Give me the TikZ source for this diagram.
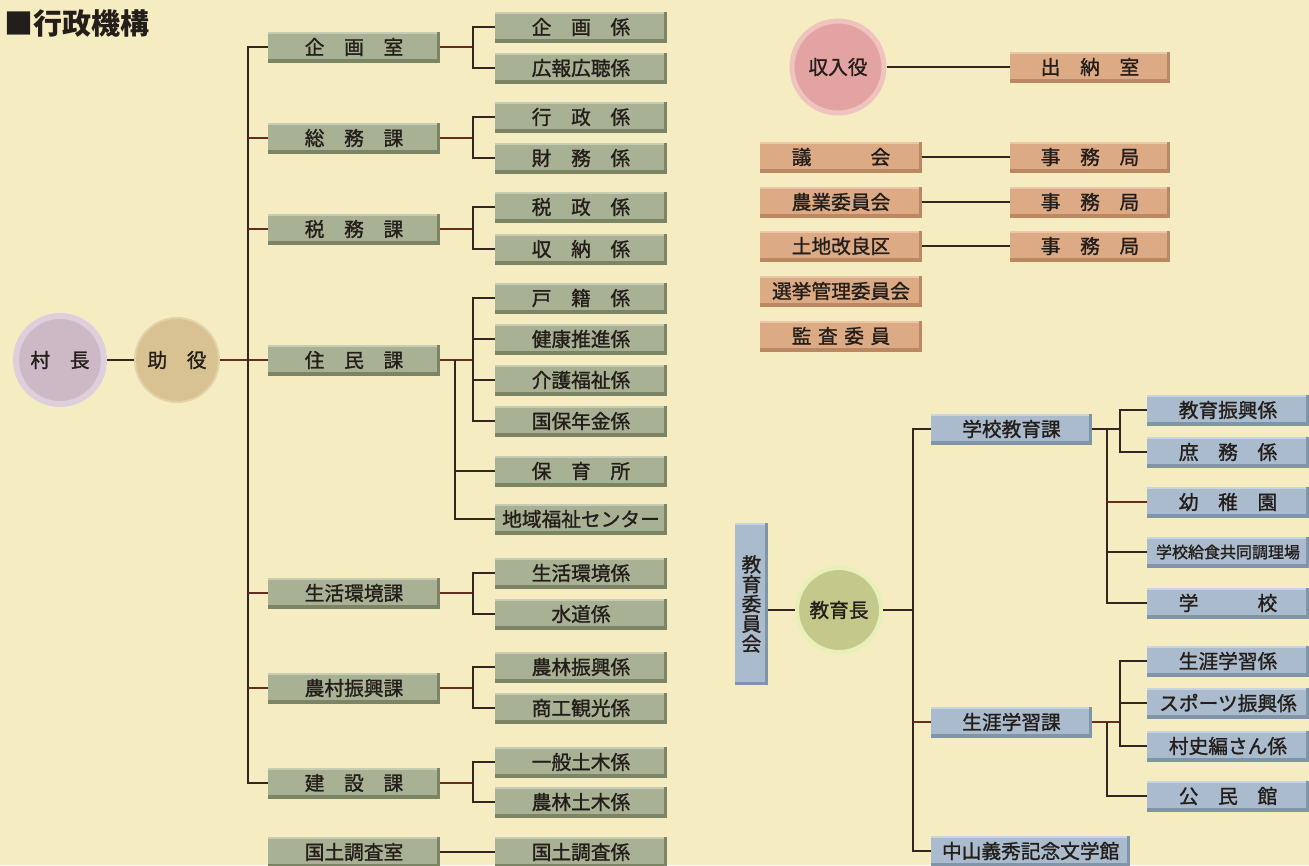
\documentclass[tikz,border=0pt]{standalone}
\usepackage{fontspec}
\newfontfamily\jp{Noto Sans CJK JP}[FakeBold=1.2]
\newfontfamily\jpt{Noto Sans CJK JP}
\definecolor{bg}{HTML}{F5ECC2}
\definecolor{txt}{HTML}{241E1A}
\definecolor{conn}{HTML}{33261F}
\definecolor{connr}{HTML}{642E1E}
\definecolor{gmain}{HTML}{A8B193}
\definecolor{gdark}{HTML}{7C8466}
\definecolor{glight}{HTML}{C6CDB4}
\definecolor{tmain}{HTML}{DCAB86}
\definecolor{tdark}{HTML}{BA8862}
\definecolor{tlight}{HTML}{EBC7A7}
\definecolor{bmain}{HTML}{A9BBCD}
\definecolor{bdark}{HTML}{8195A9}
\definecolor{blight}{HTML}{C8D5E1}
\definecolor{sonc}{HTML}{CDB8C6}
\definecolor{sonh}{HTML}{DDD0DC}
\definecolor{joc}{HTML}{D9C291}
\definecolor{joh}{HTML}{E2D2AA}
\definecolor{shc}{HTML}{E3A3A3}
\definecolor{shh}{HTML}{EFC3BE}
\definecolor{kyc}{HTML}{C4C98B}
\definecolor{kyh}{HTML}{E6F0B8}
\tikzset{
  box/.style={rectangle, inner sep=0pt, minimum height=31, text=txt,
    font=\jp\fontsize{19.7}{22}\selectfont},
  bev/.style n args={3}{fill=#1, path picture={
    \fill[#2] (path picture bounding box.south west) rectangle ([yshift=3.5pt]path picture bounding box.south east);
    \fill[#2] ([xshift=-3pt]path picture bounding box.south east) rectangle (path picture bounding box.north east);
    \fill[#3] ([yshift=-2pt]path picture bounding box.north west) rectangle ([xshift=-3pt]path picture bounding box.north east);
  }},
  gbox/.style={box, bev={gmain}{gdark}{glight}, minimum width=#1}, gbox/.default=172,
  tbox/.style={box, bev={tmain}{tdark}{tlight}, minimum width=#1}, tbox/.default=162,
  bbox/.style={box, bev={bmain}{bdark}{blight}, minimum width=#1}, bbox/.default=162,
  circ/.style n args={3}{circle, fill=#1, draw=#2, line width=#3, inner sep=0pt, text=txt,
    font=\jp\fontsize{19.7}{22}\selectfont},
  cl/.style={draw=conn, line width=2.3pt},
  cr/.style={draw=connr, line width=2.3pt},
}
\newcommand\brk[3]{%
  \draw[cr] (#1.east) -- ++(33,0);
  \draw[cl] (#2.west) -- ++(-22,0) |- (#3.west);}
\begin{document}
\begin{tikzpicture}[x=1pt,y=-1pt]
\fill[bg] (0,0) rectangle (1309,865);
\useasboundingbox (0,0) rectangle (1309,865);

% title
\node[anchor=west, inner sep=0pt, font=\jpt\bfseries\fontsize{29}{32}\selectfont, text=txt] (title) at (4,24) {■行政機構};

% circles
\node[circ={sonc}{sonh}{6pt}, minimum size=88] (soncho) at (60,360) {村　長};
\node[circ={joc}{joh}{2pt}, minimum size=84] (joyaku) at (177,360) {助　役};

% level 1
\node[gbox] (k1) at (354,47) {企　画　室};
\node[gbox] (k2) at (354,138) {総　務　課};
\node[gbox] (k3) at (354,229) {税　務　課};
\node[gbox] (k4) at (354,360) {住　民　課};
\node[gbox] (k5) at (354,593) {生活環境課};
\node[gbox] (k6) at (354,688) {農村振興課};
\node[gbox] (k7) at (354,783) {建　設　課};
\node[gbox] (k8) at (354,852) {国土調査室};

% level 2
\node[gbox] (s11) at (581,27) {企　画　係};
\node[gbox] (s12) at (581,68) {広報広聴係};
\node[gbox] (s21) at (581,117) {行　政　係};
\node[gbox] (s22) at (581,158) {財　務　係};
\node[gbox] (s31) at (581,207) {税　政　係};
\node[gbox] (s32) at (581,249) {収　納　係};
\node[gbox] (s41) at (581,298) {戸　籍　係};
\node[gbox] (s42) at (581,339) {健康推進係};
\node[gbox] (s43) at (581,380) {介護福祉係};
\node[gbox] (s44) at (581,421) {国保年金係};
\node[gbox] (s45) at (581,471) {保　育　所};
\node[gbox] (s46) at (581,519) {地域福祉センター};
\node[gbox] (s51) at (581,573) {生活環境係};
\node[gbox] (s52) at (581,614) {水道係};
\node[gbox] (s61) at (581,667) {農林振興係};
\node[gbox] (s62) at (581,708) {商工観光係};
\node[gbox] (s71) at (581,762) {一般土木係};
\node[gbox] (s72) at (581,802) {農林土木係};
\node[gbox] (s81) at (581,852) {国土調査係};

% connectors left
\draw[cl] (soncho.east) -- (joyaku.west);
\draw[cr] (joyaku.east) -- (k4.west);
\draw[cl] (k1.west) -- ++(-20,0) |- (k7.west);
\foreach \n in {k2,k3,k5,k6}{\draw[cr] (\n.west) -- ++(-20,0);}
\brk{k1}{s11}{s12}
\brk{k2}{s21}{s22}
\brk{k3}{s31}{s32}
\brk{k4}{s41}{s44}
\draw[cl] (s42.west) -- ++(-22,0);
\draw[cl] (s43.west) -- ++(-22,0);
\draw[cl] ([xshift=15pt]k4.east) |- (s46.west);
\draw[cl] (s45.west) -- ++(-40,0);
\brk{k5}{s51}{s52}
\brk{k6}{s61}{s62}
\brk{k7}{s71}{s72}
\draw[cl] (k8.east) -- (s81.west);

% upper right
\node[circ={shc}{shh}{5pt}, minimum size=92] (shunyu) at (838,67) {収入役};
\node[tbox=160] (suito) at (1090,67) {出　納　室};
\node[tbox] (g1) at (841,157) {議　　　会};
\node[tbox] (g2) at (841,202) {農業委員会};
\node[tbox] (g3) at (841,246) {土地改良区};
\node[tbox] (g4) at (841,291) {選挙管理委員会};
\node[tbox] (g5) at (841,336) {\makebox[98.5pt][s]{監\hfil 査\hfil 委\hfil 員}};
\node[tbox=160] (j1) at (1090,157) {事　務　局};
\node[tbox=160] (j2) at (1090,202) {事　務　局};
\node[tbox=160] (j3) at (1090,246) {事　務　局};
\draw[cl] (shunyu.east) -- (suito.west);
\draw[cl] (g1.east) -- (j1.west);
\draw[cl] (g2.east) -- (j2.west);
\draw[cl] (g3.east) -- (j3.west);

% education
\node[bbox=33, minimum height=162, align=center, font=\jp\fontsize{19.7}{19.8}\selectfont] (iinkai) at (751.5,604) {教\\育\\委\\員\\会};
\node[circ={kyc}{kyh}{4pt}, minimum size=84] (kyoiku) at (839,610) {教育長};
\node[bbox=161] (gakko) at (1011.5,429) {学校教育課};
\node[bbox=161] (shogai) at (1011.5,722) {生涯学習課};
\node[bbox=199, anchor=west] (naka) at (931,851) {中山義秀記念文学館};
\node[bbox] (e1) at (1228,410) {教育振興係};
\node[bbox] (e2) at (1228,452) {庶　務　係};
\node[bbox] (e3) at (1228,502) {幼　稚　園};
\node[bbox, font=\jp\fontsize{16}{18}\selectfont] (e4) at (1228,552) {学校給食共同調理場};
\node[bbox] (e5) at (1228,603) {学　　　校};
\node[bbox] (e6) at (1228,661) {生涯学習係};
\node[bbox] (e7) at (1228,703) {スポーツ振興係};
\node[bbox] (e8) at (1228,746) {村史編さん係};
\node[bbox] (e9) at (1228,796) {公　民　館};

\coordinate (ev) at ([xshift=-18pt]gakko.west);
\draw[cl] (iinkai.east |- kyoiku.west) -- (kyoiku.west);
\draw[cl] (kyoiku.east) -- (kyoiku.east -| ev);
\draw[cl] (gakko.west) -- ++(-18,0) |- (naka.west);
\draw[cr] (shogai.west) -- ++(-18,0);
\draw[cl] (gakko.east) -- ++(28,0);
\draw[cl] (e1.west) -- ++(-27,0) |- (e2.west);
\draw[cl] ([xshift=15pt]gakko.east) |- (e5.west);
\draw[cr] (e3.west) -- ++(-40,0);
\draw[cl] (e4.west) -- ++(-40,0);
\draw[cr] (shogai.east) -- ++(28,0);
\draw[cl] (e6.west) -- ++(-27,0) |- (e8.west);
\draw[cl] (e7.west) -- ++(-27,0);
\draw[cl] ([xshift=15pt]shogai.east) |- (e9.west);
\end{tikzpicture}
\end{document}
